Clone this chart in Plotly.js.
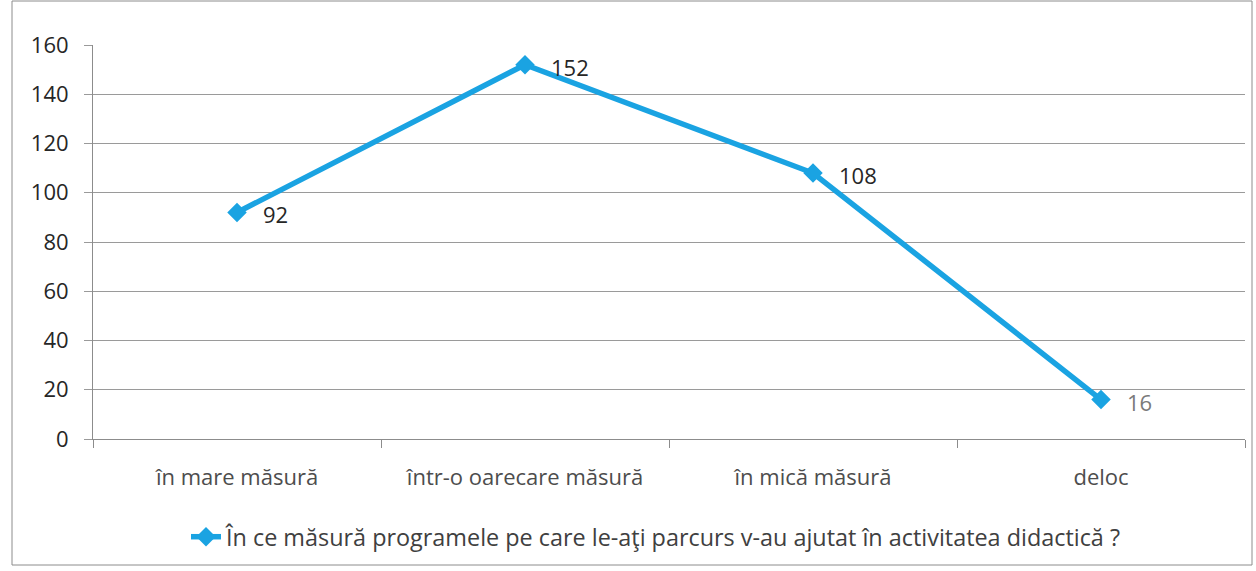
<!DOCTYPE html>
<html>
<head>
<meta charset="utf-8">
<script src="https://cdn.plot.ly/plotly-3.0.1.min.js"></script>
<style>
  html, body { margin: 0; padding: 0; background: #fff; }
  #chart { width: 1256px; height: 571px; }
</style>
</head>
<body>
<div id="chart"></div>
<script>
const categories = ["în mare măsură", "într-o oarecare măsură", "în mică măsură", "deloc"];
const values = [92, 152, 108, 16];
const labelColors = ["#262626", "#262626", "#262626", "#7a7a7a"];
const yTicks = [0, 20, 40, 60, 80, 100, 120, 140, 160];
const seriesName = "În ce măsură programele pe care le-aţi parcurs v-au ajutat în activitatea didactică ?";

const L = 93, R = 11, T = 45, B = 132, W = 1256, H = 571;
const pw = W - L - R, ph = H - T - B;
const px = v => (v - L) / pw;
const py = v => (H - B - v) / ph;

const lineColor = "#1aa3e2";
const font = "Open Sans, Noto Sans, sans-serif";

const trace = {
  type: "scatter",
  mode: "lines+markers",
  x: categories,
  y: values,
  name: seriesName,
  line: { color: lineColor, width: 5.5 },
  marker: { symbol: "diamond", size: 15, color: lineColor },
  hoverinfo: "x+y"
};

const annotations = categories.map((c, i) => ({
  x: c, y: values[i], xref: "x", yref: "y",
  text: String(values[i]), showarrow: false,
  xanchor: "left", yanchor: "middle", xshift: 24, yshift: -2,
  font: { family: font, size: 22, color: labelColors[i] }
}));

const layout = {
  width: W, height: H,
  margin: { l: L, r: R, t: T, b: B },
  paper_bgcolor: "#fff", plot_bgcolor: "#fff",
  font: { family: font, size: 22, color: "#262626" },
  showlegend: true,
  legend: {
    orientation: "h",
    x: px(186), xanchor: "left",
    y: py(537), yanchor: "middle",
    font: { family: font, size: 23.4, color: "#404040" }
  },
  xaxis: {
    type: "category",
    range: [-0.5, categories.length - 0.5],
    showgrid: false,
    showline: true, linecolor: "#8c8c8c", linewidth: 1,
    ticks: "outside", ticklen: 8, tickcolor: "#8c8c8c",
    tickson: "boundaries",
    ticklabelstandoff: 19,
    tickfont: { family: font, size: 22, color: "#4d4d4d" },
    zeroline: false
  },
  yaxis: {
    range: [0, 160],
    tickvals: yTicks,
    ticktext: yTicks.map(String),
    showgrid: true, gridcolor: "#9a9a9a", gridwidth: 1,
    showline: true, linecolor: "#8c8c8c", linewidth: 1,
    ticks: "outside", ticklen: 8, tickcolor: "#9a9a9a",
    ticklabelstandoff: 11,
    tickfont: { family: font, size: 22, color: "#262626" },
    zeroline: false
  },
  annotations: annotations,
  shapes: [{
    type: "rect", xref: "paper", yref: "paper", layer: "below",
    x0: px(12), x1: px(1252), y0: py(565), y1: py(1),
    line: { color: "#8c8c8c", width: 1 }, fillcolor: "rgba(0,0,0,0)"
  }]
};

Plotly.newPlot("chart", [trace], layout, { displayModeBar: false, staticPlot: true });
</script>
</body>
</html>
